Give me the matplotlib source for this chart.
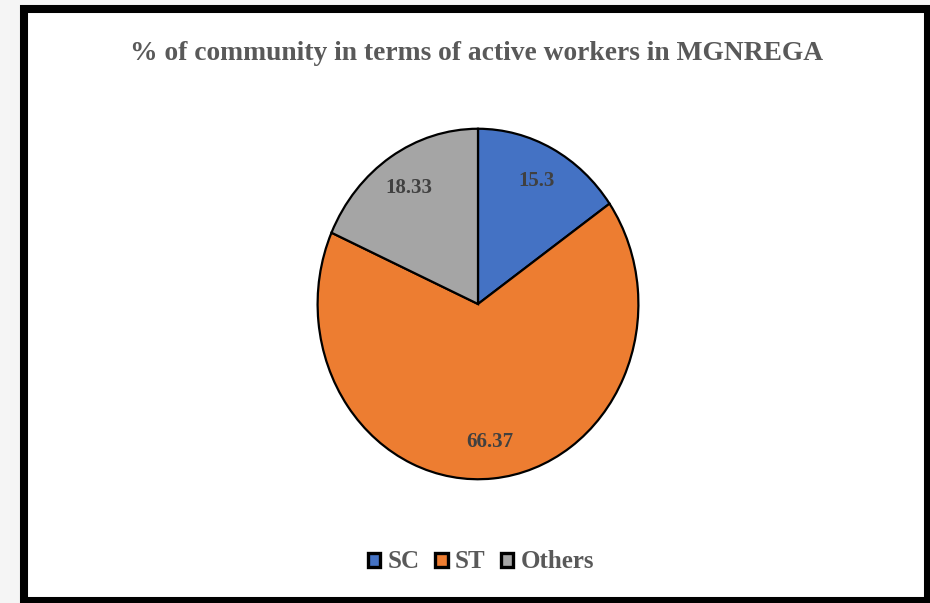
import matplotlib.pyplot as plt
from matplotlib.patches import Rectangle, Patch

# data
categories = ["SC", "ST", "Others"]
values = [15.3, 66.37, 18.33]
value_labels = ["15.3", "66.37", "18.33"]
colors = ["#4472C4", "#ED7D31", "#A5A5A5"]

W, H = 930, 603
fig = plt.figure(figsize=(W / 100, H / 100), dpi=100, facecolor="#f5f5f5")

# white chart area with thick black frame
frame = Rectangle((24 / W, 1 - 600.5 / H), (928 - 24) / W, (600.5 - 9) / H,
                  transform=fig.transFigure, facecolor="white",
                  edgecolor="black", linewidth=5.8, zorder=-5)
fig.patches.append(frame)

fig.text(477 / W, 1 - 53 / H, "% of community in terms of active workers in MGNREGA",
         ha="center", va="center", fontsize=19.8, fontweight="bold",
         family="Liberation Serif", color="#595959")

# pie axes, slightly taller than wide like the original
cx, cy, rx, ry = 478, 304, 162, 177
ax = fig.add_axes([(cx - rx) / W, 1 - (cy + ry) / H, 2 * rx / W, 2 * ry / H])
ax.set_zorder(2)
lbl = iter(value_labels)
wedges, texts, autotexts = ax.pie(
    values, colors=colors, startangle=90, counterclock=False,
    autopct=lambda p: next(lbl), pctdistance=0.79,
    wedgeprops=dict(edgecolor="black", linewidth=1.6),
    textprops=dict(fontsize=15, fontweight="bold", family="Liberation Serif",
                   color="#404040"))
ax.set_aspect("auto")
ax.set_xlim(-1.01, 1.01)
ax.set_ylim(-1.01, 1.01)
ax.axis("off")

handles = [Patch(facecolor=c, edgecolor="black", linewidth=2.4) for c in colors]
fig.legend(handles, categories, loc="center", bbox_to_anchor=(481 / W, 1 - 562 / H),
           ncol=3, frameon=False, handlelength=0.5, handleheight=0.5,
           handletextpad=0.3, columnspacing=0.6,
           prop=dict(size=18, weight="bold", family="Liberation Serif"),
           labelcolor="#595959")

fig.savefig("out.png", dpi=100, facecolor=fig.get_facecolor())
